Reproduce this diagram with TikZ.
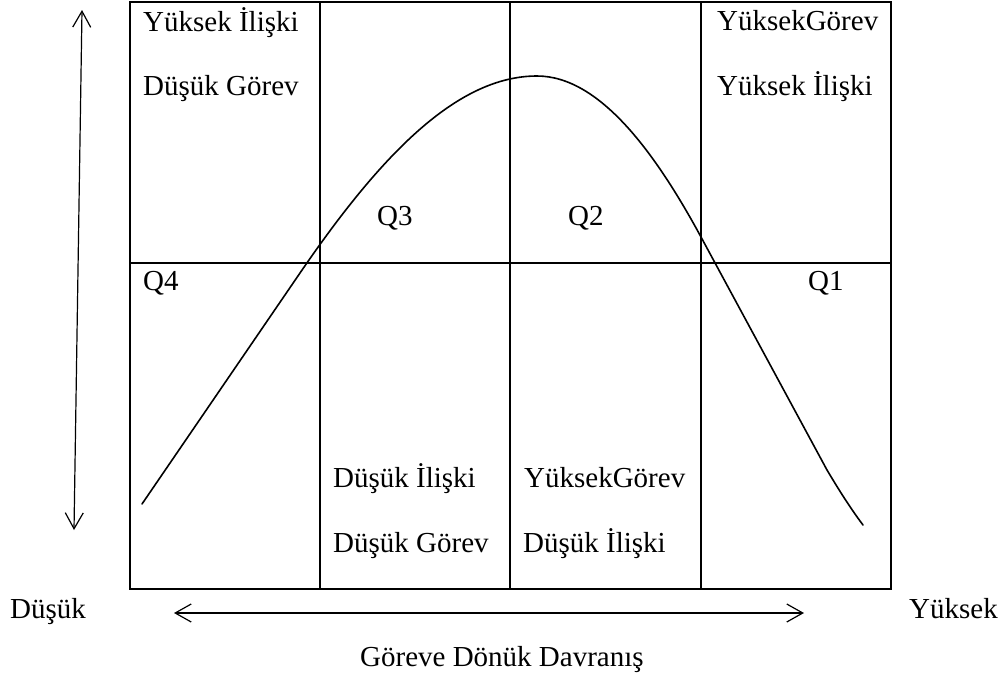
\documentclass[tikz,border=0pt]{standalone}
\usepackage{fontspec}
\setmainfont{Liberation Serif}
\usetikzlibrary{arrows.meta}
\tikzset{
  lbl/.style={anchor=base west, inner sep=0pt, font=\fontsize{29}{34}\selectfont},
  boxline/.style={line width=2pt},
  thinline/.style={line width=1.1pt},
  curveline/.style={line width=1.6pt, line join=round, line cap=round},
  biarrow/.style={line width=1.2pt, {Straight Barb[length=16pt,width=18pt,line width=1.2pt]}-{Straight Barb[length=16pt,width=18pt,line width=1.2pt]}}
}
\begin{document}
\begin{tikzpicture}[x=1pt,y=-1pt]
\useasboundingbox (0,0) rectangle (1005,681);
% grid
\coordinate (bTL) at (130,2);
\coordinate (bBR) at (891,589);
\coordinate (h1) at (130,263);
\coordinate (h2) at (891,263);
\coordinate (v1t) at (320,2);
\coordinate (v1b) at (320,589);
\coordinate (v2t) at (510,2);
\coordinate (v2b) at (510,589);
\coordinate (v3t) at (701,2);
\coordinate (v3b) at (701,589);
\draw[thinline] (h1) -- (h2);
\draw[thinline] (v2t) -- (v2b);
\draw[boxline] (v1t) -- (v1b);
\draw[boxline] (v3t) -- (v3b);
\draw[boxline] (bTL) rectangle (bBR);
% curve
\coordinate (c0) at (142,504);
\coordinate (c1) at (300,273);
\coordinate (peak) at (537,76);
\coordinate (c3) at (701,237);
\coordinate (c4) at (827,470);
\coordinate (c5) at (863,525);
\draw[curveline] (c0) -- (c1)
  .. controls (382,153) and (458,76) .. (peak)
  .. controls (600,76) and (656,154) .. (c3)
  -- (c4)
  .. controls (836,485) and (848,505) .. (c5);
% arrows
\coordinate (vtop) at (82,10);
\coordinate (vbot) at (74,530);
\draw[biarrow] (vbot) -- (vtop);
\coordinate (hl) at (174,613);
\coordinate (hr) at (804,613);
\draw[biarrow] (hl) -- (hr);
% labels
\node[lbl] (tl1) at (143,31) {Yüksek İlişki};
\node[lbl] (tl2) at (143,95) {Düşük Görev};
\node[lbl] (tr1) at (717,30) {YüksekGörev};
\node[lbl] (tr2) at (717,95) {Yüksek İlişki};
\node[lbl] (q4) at (143,290) {Q4};
\node[lbl] (q1) at (808,290) {Q1};
\node[lbl] (q3) at (377,225) {Q3};
\node[lbl] (q2) at (568,225) {Q2};
\node[lbl] (bl1) at (333,487) {Düşük İlişki};
\node[lbl] (bl2) at (333,552) {Düşük Görev};
\node[lbl] (br1) at (524,487) {YüksekGörev};
\node[lbl] (br2) at (523,552) {Düşük İlişki};
\node[lbl] (low) at (10,618) {Düşük};
\node[lbl] (high) at (909,618) {Yüksek};
\node[lbl] (axis) at (360,666) {Göreve Dönük Davranış};
\end{tikzpicture}
\end{document}
